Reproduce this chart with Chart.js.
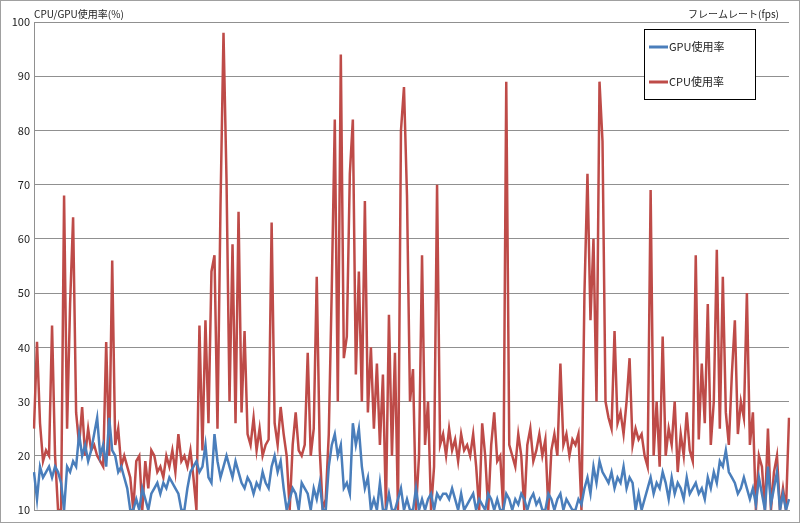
<!DOCTYPE html>
<html>
<head>
<meta charset="utf-8">
<script src="https://cdn.jsdelivr.net/npm/chart.js@4"></script>
<style>
  html, body { margin: 0; padding: 0; background: #fff; }
  #wrap { width: 798px; height: 521px; border: 1px solid #a0a0a0; position: relative; }
</style>
</head>
<body>
<div id="wrap"><canvas id="chart" width="798" height="521"></canvas></div>
<script>
// CPU / GPU usage samples
const cpuUsage = [
  25,41,26,19,21,20,44,20,10,10,
  68,25,48,64,28,22,29,20,25,21,
  22,20,19,18,41,20,56,22,25,18,
  20,18,16,10,19,20,10,19,14,21,
  20,17,18,16,20,18,21,17,24,19,
  20,18,21,16,10,44,21,45,26,54,
  57,25,66,98,71,30,59,26,65,28,
  43,24,22,27,21,25,20,22,23,63,
  26,22,29,24,20,10,22,28,21,20,
  22,39,20,25,53,21,10,12,24,51,
  82,30,94,38,42,72,82,35,54,30,
  67,28,40,25,37,22,35,10,46,20,
  39,10,80,88,68,30,36,10,20,57,
  22,30,10,18,70,22,24,20,25,21,
  23,19,24,21,22,20,24,18,10,26,
  20,10,22,28,19,20,10,89,22,20,
  18,24,20,10,22,25,19,21,24,20,
  23,10,21,24,20,37,22,24,20,23,
  22,24,10,50,72,45,60,30,89,78,
  30,27,25,43,26,28,24,30,38,22,
  25,23,24,20,18,69,20,30,18,42,
  20,25,22,30,17,24,20,28,21,19,
  57,23,37,26,48,22,30,58,25,53,
  28,22,35,45,24,30,27,50,22,28,
  10,20,18,10,25,10,17,20,10,14,10,27
];
const gpuUsage = [
  17,12,18,16,17,18,16,18,17,15,
  10,18,17,19,18,24,20,22,19,21,
  24,27,20,22,18,27,21,20,17,18,
  16,14,10,10,12,10,14,12,10,13,
  14,15,13,15,14,16,15,14,13,10,
  10,14,17,18,19,17,18,22,16,15,
  24,19,16,18,20,18,16,19,17,15,
  14,16,15,13,15,14,17,15,14,18,
  20,17,19,14,10,12,14,13,10,15,
  14,13,10,14,12,15,10,10,18,22,
  24,20,22,14,15,13,26,22,25,18,
  14,16,10,12,10,15,10,10,13,10,
  10,12,14,10,12,10,10,14,10,12,
  10,12,13,10,13,12,13,13,12,14,
  12,10,13,10,11,12,13,10,12,11,
  10,13,12,10,12,10,10,13,12,10,
  12,11,13,12,10,12,13,11,12,10,
  10,13,12,10,12,13,10,12,11,10,
  10,12,11,14,16,13,18,15,19,17,
  16,15,17,14,16,15,18,14,16,15,
  10,13,10,12,14,16,13,15,14,17,
  15,12,16,13,15,14,12,16,13,14,
  15,13,14,12,16,14,17,15,19,18,
  21,17,16,15,13,14,16,14,12,14,
  11,16,13,10,18,11,14,17,10,13,10,12
];
const samples = cpuUsage.map((_, i) => i + 1);
const yTicks = [10, 20, 30, 40, 50, 60, 70, 80, 90, 100];

const FONT = '"Noto Sans CJK JP", "DejaVu Sans", sans-serif';

// axis captions + boxed legend, drawn like the original spreadsheet chart
const decorations = {
  id: 'decorations',
  afterDraw(chart) {
    const ctx = chart.ctx;
    const area = chart.chartArea;
    ctx.save();
    ctx.fillStyle = '#222';
    ctx.font = '10px ' + FONT;
    ctx.textBaseline = 'bottom';
    ctx.textAlign = 'left';
    ctx.fillText('CPU/GPU使用率(%)', area.left, area.top - 3);
    ctx.textAlign = 'right';
    ctx.fillText('フレームレート(fps)', area.right - 10, area.top - 3);

    // legend box
    const bx = 643, by = 28, bw = 111, bh = 70;
    ctx.fillStyle = '#fff';
    ctx.fillRect(bx, by, bw, bh);
    ctx.strokeStyle = '#000';
    ctx.lineWidth = 1;
    ctx.strokeRect(bx + 0.5, by + 0.5, bw, bh);
    ctx.font = '11px ' + FONT;
    ctx.textAlign = 'left';
    ctx.textBaseline = 'middle';
    chart.data.datasets.forEach((ds, i) => {
      const y = by + 18 + i * 35;
      ctx.strokeStyle = ds.borderColor;
      ctx.lineWidth = 3;
      ctx.beginPath();
      ctx.moveTo(bx + 5, y);
      ctx.lineTo(bx + 24, y);
      ctx.stroke();
      ctx.fillStyle = '#222';
      ctx.fillText(ds.label, bx + 25, y);
    });
    ctx.restore();
  }
};

new Chart(document.getElementById('chart'), {
  type: 'line',
  data: {
    labels: samples,
    datasets: [
      { label: 'GPU使用率', data: gpuUsage, borderColor: '#4a7ebb', borderWidth: 2.5, pointRadius: 0, tension: 0 },
      { label: 'CPU使用率', data: cpuUsage, borderColor: '#be4b48', borderWidth: 2.5, pointRadius: 0, tension: 0 }
    ]
  },
  options: {
    responsive: false,
    animation: false,
    layout: { padding: { top: 21, right: 10, bottom: 4, left: 0 } },
    plugins: { legend: { display: false }, tooltip: { enabled: false } },
    scales: {
      x: {
        ticks: { display: false },
        grid: { display: false },
        border: { color: '#909090', width: 1 }
      },
      y: {
        min: 10, max: 100,
        afterBuildTicks: axis => { axis.ticks = yTicks.map(v => ({ value: v })); },
        afterFit: axis => { axis.width = 33; },
        ticks: { color: '#222', font: { size: 11, family: FONT }, padding: 4 },
        grid: { color: '#909090', drawTicks: false },
        border: { color: '#909090', width: 1 }
      }
    }
  },
  plugins: [decorations]
});
</script>
</body>
</html>
